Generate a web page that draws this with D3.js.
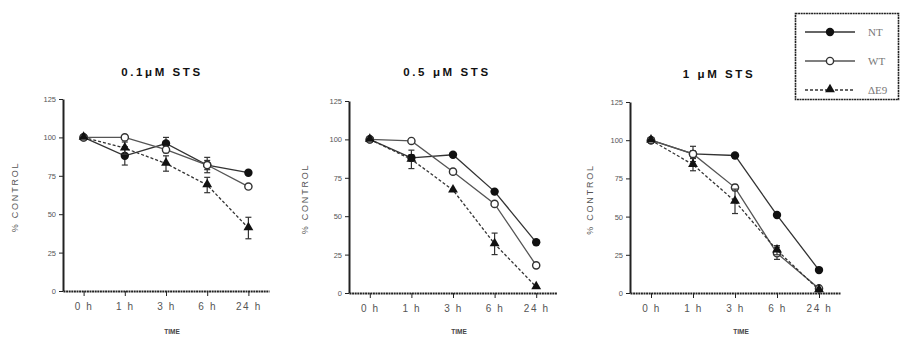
<!DOCTYPE html>
<html>
<head>
<meta charset="utf-8">
<script src="https://cdn.jsdelivr.net/npm/d3@7"></script>
<style>
  body { margin: 0; background: #fff; }
  svg { display: block; }
  .tick text { font-family: "Liberation Sans", Arial, sans-serif; fill: #555; }
  .domain, .tick line { stroke: #222; }
</style>
</head>
<body>
<svg id="chart" width="901" height="337"></svg>
<script>
// Time points and the three treatments.
var times = ["0 h", "1 h", "3 h", "6 h", "24 h"];
var yTicks = [0, 25, 50, 75, 100, 125];
var panelTitles = ["0.1\u03bcM STS", "0.5 \u03bcM STS", "1 \u03bcM STS"];
var seriesNames = ["NT", "WT", "\u0394E9"];

// % control, one row per panel, values for 0h..24h.
var ntValues = [
  [100, 88, 96, 82, 77],
  [100, 88, 90, 66, 33],
  [100, 91, 90, 51, 15]
];
var wtValues = [
  [100, 100, 92, 82, 68],
  [100, 99, 79, 58, 18],
  [100, 91, 69, 26, 3]
];
var de9Values = [
  [100, 93, 83, 69, 41],
  [100, 87, 67, 32, 4],
  [100, 84, 60, 28, 2]
];
// Error bar half widths (SEM).
var ntErr = [
  [0, 6, 4, 5, 1],
  [0, 2, 1, 1, 1],
  [0, 5, 1, 1, 1]
];
var wtErr = [
  [0, 1, 2, 3, 1],
  [0, 1, 1, 1, 1],
  [0, 2, 2, 4, 1]
];
var de9Err = [
  [0, 4, 5, 5, 7],
  [0, 6, 1, 7, 1],
  [0, 4, 8, 3, 1]
];

// Panel frames (plot area of each small chart).
var frames = [
  { x0: 63, x1: 269, y0: 291, y1: 99, title: [162, 76], ylab: 18 },
  { x0: 349, x1: 557, y0: 293, y1: 101, title: [447, 76], ylab: 308 },
  { x0: 630, x1: 840, y0: 293, y1: 102, title: [719, 78], ylab: 593 }
];

var svg = d3.select("#chart");

var styles = [
  { name: seriesNames[0], values: ntValues, err: ntErr, marker: "filled", dash: null, color: "#333" },
  { name: seriesNames[1], values: wtValues, err: wtErr, marker: "open", dash: null, color: "#555" },
  { name: seriesNames[2], values: de9Values, err: de9Err, marker: "triangle", dash: "3,2", color: "#333" }
];

function drawMarker(g, type, x, y) {
  if (type === "filled") {
    g.append("circle").attr("cx", x).attr("cy", y).attr("r", 4.2).attr("fill", "#111");
  } else if (type === "open") {
    g.append("circle").attr("cx", x).attr("cy", y).attr("r", 3.6)
      .attr("fill", "#fff").attr("stroke", "#333").attr("stroke-width", 1.4);
  } else {
    g.append("path")
      .attr("d", d3.symbol().type(d3.symbolTriangle).size(42)())
      .attr("transform", "translate(" + x + "," + (y - 0.5) + ")")
      .attr("fill", "#111");
  }
}

frames.forEach(function(f, p) {
  var x = d3.scalePoint().domain(times).range([f.x0, f.x1]).padding(0.5);
  var y = d3.scaleLinear().domain([0, 125]).range([f.y0, f.y1]);
  var g = svg.append("g");

  // Axes.
  g.append("g")
    .attr("transform", "translate(0," + f.y0 + ")")
    .call(d3.axisBottom(x).tickSize(5).tickPadding(7).tickSizeOuter(0))
    .call(function(a) {
      a.select(".domain").attr("stroke-width", 2).attr("stroke-dasharray", "2,0.6");
      a.selectAll("text").attr("font-size", 10).attr("letter-spacing", 1.6);
    });
  g.append("g")
    .attr("transform", "translate(" + f.x0 + ",0)")
    .call(d3.axisLeft(y).tickValues(yTicks).tickSize(4).tickPadding(3).tickSizeOuter(0))
    .call(function(a) {
      a.select(".domain").attr("stroke-width", 2).attr("stroke", "#444");
      a.selectAll("text").attr("font-size", 7.5).attr("fill", "#666");
    });

  // Titles.
  g.append("text")
    .attr("x", f.title[0]).attr("y", f.title[1])
    .attr("text-anchor", "middle")
    .attr("font-family", "Liberation Sans, Arial, sans-serif")
    .attr("font-weight", "bold").attr("font-size", 11.5).attr("letter-spacing", 2.6)
    .attr("fill", "#111")
    .text(panelTitles[p]);
  g.append("text")
    .attr("transform", "translate(" + f.ylab + "," + ((f.y0 + f.y1) / 2 + 2) + ") rotate(-90)")
    .attr("text-anchor", "middle")
    .attr("font-family", "Liberation Sans, Arial, sans-serif")
    .attr("font-size", 9).attr("letter-spacing", 1.8).attr("fill", "#555")
    .text("% CONTROL");
  g.append("text")
    .attr("x", (f.x0 + f.x1) / 2 + 6).attr("y", 334)
    .attr("text-anchor", "middle")
    .attr("font-family", "Liberation Sans, Arial, sans-serif")
    .attr("font-weight", "bold").attr("font-size", 6.5).attr("fill", "#444")
    .text("TIME");

  // Series.
  styles.forEach(function(s) {
    var vals = s.values[p];
    var line = d3.line()
      .x(function(d, i) { return x(times[i]); })
      .y(function(d) { return y(d); });
    g.append("path")
      .datum(vals)
      .attr("d", line)
      .attr("fill", "none")
      .attr("stroke", s.color)
      .attr("stroke-width", 1.3)
      .attr("stroke-dasharray", s.dash);

    vals.forEach(function(v, i) {
      var e = s.err[p][i];
      if (e > 1) {
        var cx = x(times[i]);
        g.append("line")
          .attr("x1", cx).attr("x2", cx)
          .attr("y1", y(v - e)).attr("y2", y(v + e))
          .attr("stroke", "#333").attr("stroke-width", 1.2);
        [v - e, v + e].forEach(function(w) {
          g.append("line")
            .attr("x1", cx - 3).attr("x2", cx + 3)
            .attr("y1", y(w)).attr("y2", y(w))
            .attr("stroke", "#333").attr("stroke-width", 1.2);
        });
      }
    });
    vals.forEach(function(v, i) {
      drawMarker(g, s.marker, x(times[i]), y(v));
    });
  });
});

// Legend.
var legend = svg.append("g");
legend.append("rect")
  .attr("x", 795.5).attr("y", 13.5).attr("width", 103).attr("height", 86)
  .attr("fill", "#fff").attr("stroke", "#222").attr("stroke-width", 1.6)
  .attr("stroke-dasharray", "2,0.6");
var legendY = d3.scalePoint().domain(seriesNames).range([32, 90]);
styles.forEach(function(s) {
  var ly = legendY(s.name);
  legend.append("line")
    .attr("x1", 805).attr("x2", 855).attr("y1", ly).attr("y2", ly)
    .attr("stroke", s.color).attr("stroke-width", 1.3)
    .attr("stroke-dasharray", s.dash);
  drawMarker(legend, s.marker, 830, ly);
  legend.append("text")
    .attr("x", 868).attr("y", ly + 4)
    .attr("font-family", "Liberation Serif, Times New Roman, serif")
    .attr("font-size", 11).attr("fill", "#777")
    .text(s.name);
});
</script>
</body>
</html>
